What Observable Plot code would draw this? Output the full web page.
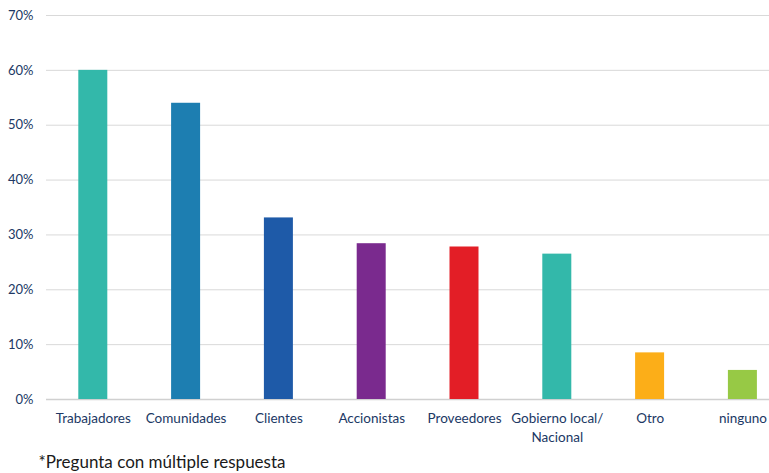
<!DOCTYPE html>
<html>
<head>
<meta charset="utf-8">
<script src="https://cdn.jsdelivr.net/npm/d3@7"></script>
<script src="https://cdn.jsdelivr.net/npm/@observablehq/plot@0.6"></script>
<style>
  html, body { margin: 0; padding: 0; background: #fff; }
  #chart svg { display: block; }
</style>
</head>
<body>
<div id="chart"></div>
<script>
const categories = ["Trabajadores", "Comunidades", "Clientes", "Accionistas", "Proveedores", "Gobierno local/\nNacional", "Otro", "ninguno"];
const values = [60.0, 54.0, 33.1, 28.4, 27.8, 26.5, 8.5, 5.3];
const colors = ["#33b8aa", "#1d7eb1", "#1e5aa8", "#7a2a8e", "#e31e26", "#33b8aa", "#fcae18", "#97c945"];
const yTicks = [0, 10, 20, 30, 40, 50, 60, 70];
const footnote = "*Pregunta con múltiple respuesta";

const data = categories.map((c, i) => ({category: c, value: values[i], color: colors[i]}));
const navy = "#203864";

const chart = Plot.plot({
  width: 769,
  height: 473,
  marginTop: 15,
  marginBottom: 74,
  marginLeft: 46,
  marginRight: 0,
  style: {fontFamily: "Lato, 'Open Sans', sans-serif", fontSize: "13px", color: navy, background: "#fff"},
  x: {domain: categories, range: [46.4, 788.8], padding: 0, round: false, label: null},
  y: {domain: [0, 70], label: null},
  marks: [
    Plot.gridY(yTicks.filter(d => d > 0), {stroke: "#d9d9d9", strokeOpacity: 1, strokeWidth: 1}),
    Plot.ruleY([0], {stroke: "#d0d0d0", strokeWidth: 1.5}),
    Plot.barY(data, {x: "category", y: "value", fill: "color", insetLeft: 31.9, insetRight: 31.9}),
    Plot.axisY(yTicks, {tickSize: 0, tickPadding: 13, tickFormat: d => d + "%", fill: navy, fontSize: 13}),
    Plot.axisX({tickSize: 0, tickPadding: 11, fill: navy, fontSize: 13.5, lineHeight: 1.35}),
    Plot.text([footnote], {frameAnchor: "bottom-left", dx: -8, dy: 68, textAnchor: "start", fontSize: 17, fill: "#1a1a1a"})
  ]
});
document.getElementById("chart").appendChild(chart);
</script>
</body>
</html>
